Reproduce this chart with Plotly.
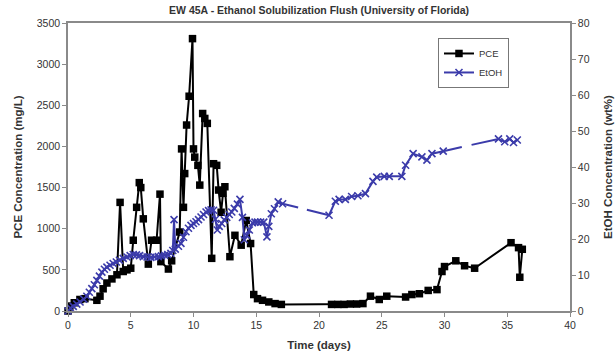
import plotly.graph_objects as go

# ---------------- data ----------------
pce_days = [0, 0.15, 0.5, 0.95, 1.35, 2.3, 2.55, 2.8, 3.1, 3.5, 3.9, 4.15, 4.4, 4.7, 5.0,
            5.2, 5.47, 5.68, 5.8, 6.0, 6.4, 6.66, 7.06, 7.33, 7.4, 8.0, 8.26, 8.9, 9.05,
            9.2, 9.3, 9.45, 9.65, 9.92, 10.0, 10.1, 10.35, 10.5, 10.73, 10.9, 11.1, 11.45,
            11.6, 11.85, 12.0, 12.2, 12.35, 12.5, 12.9, 13.3, 13.8, 14.2, 14.55, 14.8,
            15.1, 15.5, 16.0, 16.5, 17.0, 21.0, 21.5, 22.0, 22.5, 23.0, 23.5, 24.1, 24.8,
            25.4, 26.9, 27.4, 28.0, 28.7, 29.4, 29.8, 30.0, 30.9, 31.6, 32.4, 35.3, 35.9,
            36.0, 36.2]
pce_vals = [0, 60, 100, 140, 150, 130, 180, 270, 340, 390, 440, 1320, 480, 500, 520,
            860, 1260, 1560, 1500, 1120, 570, 860, 860, 1420, 600, 510, 610, 960, 1970,
            1260, 1670, 2260, 2610, 3310, 1970, 1870, 1770, 1530, 2400, 2340, 2280, 640,
            1790, 1770, 1470, 1200, 1430, 1510, 660, 920, 800, 1100, 820, 200,
            150, 130, 110, 90, 80, 80, 80, 80, 85, 85, 90, 180, 140,
            180, 170, 200, 210, 250, 260, 480, 540, 610, 550, 520, 830, 770,
            410, 750]

etoh_days = [0, 0.2, 0.42, 0.7, 0.96, 1.25, 1.5, 1.7, 1.9, 2.1, 2.3, 2.5, 2.7, 2.9, 3.1,
             3.35, 3.6, 3.85, 4.1, 4.4, 4.7, 4.95, 5.2, 5.45, 5.7, 6.0, 6.3, 6.6, 6.9,
             7.2, 7.45, 7.7, 7.95, 8.2, 8.35, 8.45, 8.55, 8.8, 9.0, 9.2, 9.4, 9.6, 9.8,
             10.0, 10.2, 10.4, 10.6, 10.8, 11.0, 11.2, 11.4, 11.6, 11.75, 11.9, 12.05,
             12.25, 12.45, 12.65, 12.85, 13.05, 13.25, 13.5, 13.7, 13.9, 14.05, 14.25,
             14.45, 14.7, 14.9, 15.1, 15.35, 15.6, 15.85, 16.0, 16.2, 16.45, 16.75, 17.1,
             20.8, 21.3, 21.6, 22.1, 22.6, 23.1, 23.7, 24.3, 24.6, 25.2, 25.6, 26.6, 26.9,
             27.5, 28.2, 28.6, 29.0, 29.9, 34.3, 34.8, 35.2, 35.5, 35.8]
etoh_vals = [0, 0.8, 1.3, 1.9, 2.5, 3.3, 4.1, 5.2, 6.2, 7.3, 8.5, 9.7, 10.8, 11.6, 12.2,
             12.7, 13.2, 13.6, 14.1, 14.6, 15.0, 15.4, 15.7, 15.6, 15.4, 15.1, 15.0, 14.9, 15.0,
             15.1, 15.3, 15.5, 15.7, 16.0, 16.8, 25.4, 17.2, 18.0, 18.8, 20.5, 22.0, 23.0, 23.8,
             24.3, 24.8, 25.4, 26.1, 26.8, 27.5, 27.9, 28.1, 28.0, 25.5, 22.5, 23.5,
             24.3, 25.3, 26.0, 26.8, 27.5, 28.5, 29.7, 31.0, 26.0, 19.8, 21.0,
             22.5, 24.5, 24.7, 24.7, 24.7, 24.7, 20.6, 23.5, 27.0, 28.4, 30.3, 29.8,
             26.6, 30.5, 31.0, 31.0, 31.8, 32.0, 32.6, 36.0, 37.2, 37.4, 37.4, 37.4, 40.5,
             43.7, 42.8, 41.9, 43.7, 44.4, 47.8, 47.0, 47.8, 46.8, 47.5]

x_ticks = [0, 5, 10, 15, 20, 25, 30, 35, 40]

# ---------------- figure ----------------
BLUE = "#3B3BAA"
FONT = "Liberation Sans, Arial, sans-serif"
AXC = "#8a8a8a"
TXT = "#333333"

fig = go.Figure()

fig.add_trace(go.Scatter(
    x=pce_days, y=pce_vals, name="PCE", mode="lines+markers",
    line=dict(color="black", width=2),
    marker=dict(symbol="square", size=7.5, color="black"),
    cliponaxis=False,
))

# EtOH: long sampling gaps are drawn as broken segments
GAP = 3.0
ex, ey, gaps = [], [], []
for i, (d, v) in enumerate(zip(etoh_days, etoh_vals)):
    if i > 0 and d - etoh_days[i - 1] > GAP:
        ex.append(None); ey.append(None)
        gaps.append(i)
    ex.append(d); ey.append(v)

fig.add_trace(go.Scatter(
    x=ex, y=ey, name="EtOH", mode="lines+markers", yaxis="y2",
    line=dict(color=BLUE, width=2),
    marker=dict(symbol="x-thin", size=7, color=BLUE, line=dict(color=BLUE, width=1.6)),
    connectgaps=False, cliponaxis=False,
))
dashes = ["16px,9px,60px", "19px,10px,60px"]
for k, i in enumerate(gaps):
    fig.add_trace(go.Scatter(
        x=[etoh_days[i - 1], etoh_days[i]], y=[etoh_vals[i - 1], etoh_vals[i]],
        mode="lines", yaxis="y2", showlegend=False, hoverinfo="skip",
        line=dict(color=BLUE, width=2, dash=dashes[k % len(dashes)]),
    ))

fig.update_layout(
    width=616, height=356,
    margin=dict(l=68, r=46, t=23, b=45),
    paper_bgcolor="white", plot_bgcolor="white",
    font=dict(family=FONT, size=10, color=TXT),
    title=dict(text="<b>EW 45A - Ethanol Solubilization Flush (University of Florida)</b>",
               x=0.518, xanchor="center", y=0.972, yanchor="middle",
               font=dict(size=10.5, color=TXT)),
    xaxis=dict(range=[0, 40], tickvals=x_ticks, showgrid=False, zeroline=False,
               showline=True, linecolor=AXC, linewidth=1.5, mirror=True,
               ticks="outside", ticklen=4, tickcolor=AXC, automargin=False,
               title=dict(text="<b>Time (days)</b>", font=dict(size=11.5, color=TXT),
                          standoff=11),
               tickfont=dict(size=10.5)),
    yaxis=dict(range=[0, 3500], dtick=500, showgrid=False, zeroline=False,
               showline=True, linecolor=AXC, linewidth=1.5,
               ticks="outside", ticklen=4, tickcolor=AXC, automargin=False,
               title=dict(text="<b>PCE Concentration (mg/L)</b>",
                          font=dict(size=11.5, color=TXT), standoff=12),
               tickfont=dict(size=10.5)),
    yaxis2=dict(range=[0, 80], dtick=10, overlaying="y", side="right",
                showgrid=False, zeroline=False,
                showline=True, linecolor=AXC, linewidth=1.5,
                ticks="outside", ticklen=4, tickcolor=AXC, automargin=False,
                title=dict(text="<b>EtOH Concentration (wt%)</b>",
                           font=dict(size=11.5, color=TXT), standoff=15),
                tickfont=dict(size=10.5)),
    legend=dict(x=0.737, y=0.948, xanchor="left", yanchor="top",
                bgcolor="white", bordercolor="#777777", borderwidth=1,
                font=dict(size=9.5, color=TXT), itemwidth=30,
                tracegroupgap=2),
    showlegend=True,
)

fig.write_html("out.html")
